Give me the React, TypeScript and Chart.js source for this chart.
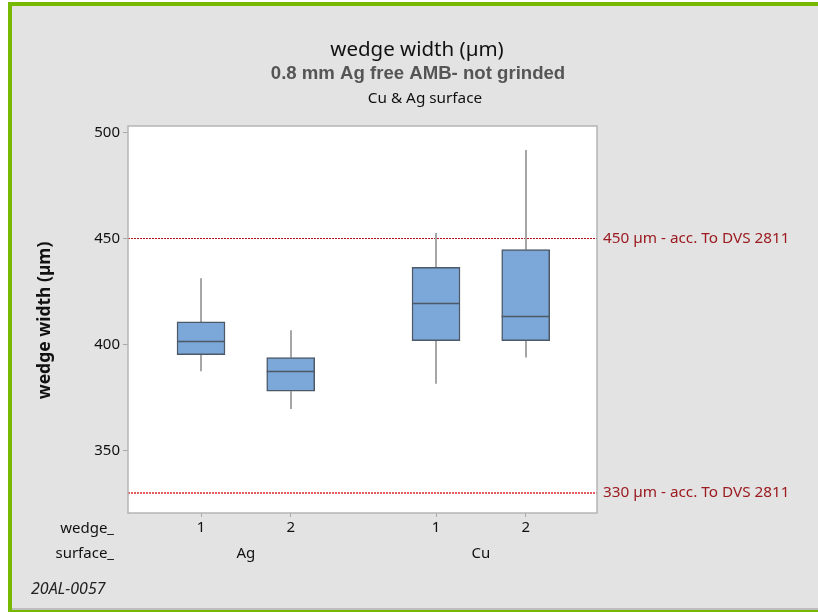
import React, { useEffect, useRef } from 'react';
import { Chart, registerables } from 'chart.js';

Chart.register(...registerables);

// Box plot summary per wedge / surface combination (µm)
const surfaces = ['Ag', 'Ag', 'Cu', 'Cu'];
const wedges = ['1', '2', '1', '2'];
const whiskerLow = [387.4, 369.6, 381.4, 393.8];
const q1 = [395.2, 377.9, 401.8, 401.8];
const medians = [401.8, 387.4, 419.4, 413.6];
const q3 = [410.6, 393.8, 436.4, 444.7];
const whiskerHigh = [431.2, 406.7, 452.6, 491.7];

const yTicks = [350, 400, 450, 500];
const limitValues = [450, 330];
const limitLabels = ['450 µm - acc. To DVS 2811', '330 µm - acc. To DVS 2811'];

// Horizontal slots of the boxes on the linear x axis (groups separated by a gap)
const slotX = [1, 2, 3.62, 4.62];

const FONT = '"Noto Sans", "Open Sans", sans-serif';
const BOX_FILL = '#7ba7d9';
const BOX_EDGE = '#4d5966';
const WHISKER = '#a6a6a6';
const LIMIT_STYLES = [
  { color: '#b0181e', width: 1 },
  { color: '#e35a5f', width: 2 },
];

const decorPlugin = {
  id: 'boxDecor',
  beforeDraw(chart: any) {
    const { ctx, chartArea: a } = chart;
    ctx.save();
    ctx.fillStyle = '#ffffff';
    ctx.fillRect(a.left, a.top, a.right - a.left, a.bottom - a.top);
    ctx.restore();
  },
  beforeDatasetsDraw(chart: any) {
    const { ctx, chartArea: a, scales } = chart;
    const x = scales.x;
    const y = scales.y;
    ctx.save();
    // specification limits
    limitValues.forEach((v, i) => {
      const st = LIMIT_STYLES[i];
      const py = Math.round(y.getPixelForValue(v)) + (st.width % 2 ? 0.5 : 0);
      ctx.strokeStyle = st.color;
      ctx.lineWidth = st.width;
      ctx.setLineDash([2, 1]);
      ctx.beginPath();
      ctx.moveTo(a.left, py);
      ctx.lineTo(a.right, py);
      ctx.stroke();
    });
    ctx.setLineDash([]);
    // whiskers
    ctx.strokeStyle = WHISKER;
    ctx.lineWidth = 2;
    slotX.forEach((sx, i) => {
      const px = Math.round(x.getPixelForValue(sx));
      ctx.beginPath();
      ctx.moveTo(px, y.getPixelForValue(whiskerHigh[i]));
      ctx.lineTo(px, y.getPixelForValue(q3[i]));
      ctx.moveTo(px, y.getPixelForValue(q1[i]));
      ctx.lineTo(px, y.getPixelForValue(whiskerLow[i]));
      ctx.stroke();
    });
    ctx.restore();
  },
  afterDatasetsDraw(chart: any) {
    const { ctx, scales } = chart;
    const x = scales.x;
    const y = scales.y;
    const half = 24;
    ctx.save();
    ctx.strokeStyle = BOX_EDGE;
    ctx.lineWidth = 1.5;
    slotX.forEach((sx, i) => {
      const px = x.getPixelForValue(sx);
      const py = Math.round(y.getPixelForValue(medians[i])) + 0.5;
      ctx.beginPath();
      ctx.moveTo(px - half, py);
      ctx.lineTo(px + half, py);
      ctx.stroke();
    });
    ctx.restore();
  },
  afterDraw(chart: any) {
    const { ctx, chartArea: a, scales } = chart;
    const x = scales.x;
    const y = scales.y;
    ctx.save();
    // plot frame
    ctx.strokeStyle = '#b5b5b5';
    ctx.lineWidth = 1.5;
    ctx.strokeRect(a.left, a.top, a.right - a.left, a.bottom - a.top);

    // titles
    ctx.textAlign = 'center';
    ctx.textBaseline = 'alphabetic';
    ctx.fillStyle = '#111111';
    ctx.font = `20.5px ${FONT}`;
    ctx.fillText('wedge width (µm)', 417, 56);
    ctx.fillStyle = '#555555';
    ctx.font = 'bold 18.6px "Liberation Sans", Arial, sans-serif';
    ctx.fillText('0.8 mm Ag free AMB- not grinded', 418, 79);
    ctx.fillStyle = '#111111';
    ctx.font = `15.3px ${FONT}`;
    ctx.fillText('Cu & Ag surface', 425, 103);

    // y axis title
    ctx.save();
    ctx.translate(45, (a.top + a.bottom) / 2 + 1);
    ctx.rotate(-Math.PI / 2);
    ctx.font = `bold 17.5px ${FONT}`;
    ctx.fillStyle = '#111111';
    ctx.textBaseline = 'middle';
    ctx.fillText('wedge width (µm)', 0, 0);
    ctx.restore();

    // limit labels
    ctx.textAlign = 'left';
    ctx.textBaseline = 'middle';
    ctx.font = `15.3px ${FONT}`;
    ctx.fillStyle = '#9b1b20';
    limitValues.forEach((v, i) => {
      ctx.fillText(limitLabels[i], a.right + 6, y.getPixelForValue(v));
    });

    // group labels under the wedge ticks
    ctx.fillStyle = '#111111';
    ctx.font = `15px ${FONT}`;
    ctx.textAlign = 'center';
    const groups: string[] = [];
    surfaces.forEach((s) => { if (!groups.includes(s)) groups.push(s); });
    groups.forEach((g) => {
      const xs = slotX.filter((_, i) => surfaces[i] === g);
      const mid = xs.reduce((s, v) => s + v, 0) / xs.length;
      ctx.fillText(g, x.getPixelForValue(mid), a.bottom + 41);
    });

    // row headers
    ctx.textAlign = 'right';
    ctx.fillText('wedge_', 114, a.bottom + 16);
    ctx.fillText('surface_', 114, a.bottom + 41);

    // sheet id
    ctx.textAlign = 'left';
    ctx.font = `italic 16px ${FONT}`;
    ctx.fillStyle = '#222222';
    ctx.fillText('20AL-0057', 31, 589);
    ctx.restore();
  },
};

export default function App() {
  const ref = useRef<HTMLCanvasElement | null>(null);

  useEffect(() => {
    if (!ref.current) return;
    const chart = new Chart(ref.current, {
      type: 'bar',
      data: {
        datasets: [
          {
            data: slotX.map((sx, i) => ({ x: sx, y: [q1[i], q3[i]] })) as any,
            backgroundColor: BOX_FILL,
            borderColor: BOX_EDGE,
            borderWidth: 1.5,
            borderSkipped: false,
            barThickness: 48,
          },
        ],
      },
      options: {
        responsive: false,
        animation: false,
        events: [],
        layout: { padding: { top: 126, right: 221, bottom: 0, left: 0 } },
        plugins: {
          legend: { display: false },
          tooltip: { enabled: false },
          title: { display: false },
        },
        scales: {
          x: {
            type: 'linear',
            min: 0.186,
            max: 5.415,
            offset: false,
            grid: { drawOnChartArea: false, offset: false, tickLength: 4, color: '#a8a8a8' },
            border: { display: false },
            ticks: {
              color: '#111111',
              font: { family: FONT, size: 15 },
              padding: 2,
              maxRotation: 0,
              autoSkip: false,
              callback: (_v: any, i: number) => wedges[i],
            },
            afterBuildTicks: (scale: any) => {
              scale.ticks = slotX.map((v) => ({ value: v }));
            },
            afterFit: (scale: any) => {
              scale.height = 99;
            },
          },
          y: {
            type: 'linear',
            min: 320.5,
            max: 503,
            grid: { drawOnChartArea: false, tickLength: 5, color: '#a8a8a8' },
            border: { display: false },
            ticks: {
              color: '#111111',
              font: { family: FONT, size: 15 },
              padding: 3,
              autoSkip: false,
              callback: (v: any) => String(v),
            },
            afterBuildTicks: (scale: any) => {
              scale.ticks = yTicks.map((v) => ({ value: v }));
            },
            afterFit: (scale: any) => {
              scale.width = 128;
            },
          },
        },
      },
      plugins: [decorPlugin],
    });
    return () => chart.destroy();
  }, []);

  return (
    <>
      <div
        style={{
          position: 'fixed',
          left: 8,
          top: 2,
          width: 840,
          height: 612,
          boxSizing: 'border-box',
          border: '4px solid #76b900',
          background: '#e3e3e3',
          boxShadow: 'inset 0 -2px 0 #bdbdbd',
        }}
      />
      <canvas
        ref={ref}
        width={818}
        height={612}
        style={{ position: 'fixed', left: 0, top: 0, width: 818, height: 612 }}
      />
    </>
  );
}
